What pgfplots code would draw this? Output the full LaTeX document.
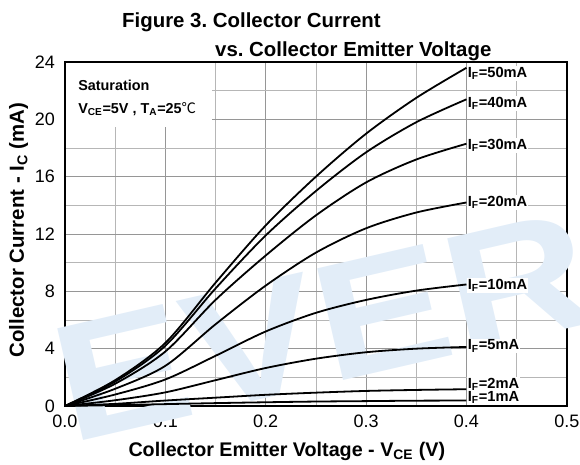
\documentclass[border=0pt]{standalone}
\usepackage{pgfplots}
\usepackage{pgfplotstable}
\pgfplotsset{compat=1.18}
\usepackage{fontspec}
\setmainfont{Liberation Sans}
\newfontfamily\cjk{Noto Sans CJK SC}
\frenchspacing

\definecolor{gridgray}{RGB}{150,150,150}
\definecolor{wmblue}{RGB}{226,237,248}

% I_C (mA) vs V_CE (V), one column per I_F
\pgfplotstableread{
vce   f50   f40   f30   f20   f10   f5    f2    f1
0.00  0.0   0.0   0.0   0.0   0.0   0.0   0.0   0.0
0.05  1.8   1.7   1.55  1.2   0.8   0.4   0.15  0.06
0.10  4.4   4.2   3.8   2.8   1.85  0.95  0.38  0.13
0.15  8.6   8.2   7.4   5.7   3.5   1.8   0.58  0.20
0.20  12.6  11.9  10.5  8.4   5.2   2.65  0.78  0.26
0.25  16.0  15.0  13.3  10.7  6.5   3.3   0.93  0.31
0.30  19.0  17.7  15.6  12.4  7.4   3.75  1.05  0.34
0.35  21.5  19.8  17.2  13.5  8.05  4.0   1.12  0.37
0.40  23.6  21.4  18.3  14.2  8.48  4.12  1.17  0.38
}\ictable

\tikzset{curve/.style={black, solid, line width=1.35pt, smooth, mark=none}}

\begin{document}
\begin{tikzpicture}
\begin{axis}[
    set layers,
    width=376.5pt, height=258pt,
    scale only axis,
    xmin=0, xmax=0.5, ymin=0, ymax=24,
    xtick={0,0.1,...,0.5},
    minor xtick={0.05,0.15,...,0.45},
    ytick={0,4,...,24},
    minor ytick={2,6,...,22},
    grid=both,
    grid style={gridgray, line width=0.6pt},
    minor grid style={gridgray!70, line width=0.6pt},
    major tick length=0pt, minor tick length=0pt,
    axis line style={black, line width=1.2pt},
    xticklabel style={/pgf/number format/fixed, /pgf/number format/fixed zerofill, /pgf/number format/precision=1},
    /pgf/number format/assume math mode=true,
    ticklabel style={font=\fontsize{13.5}{14}\selectfont, black},
    xticklabel style={yshift=-3pt},
    yticklabel style={xshift=-4pt},
    clip=false,
]
% watermark
\node[on layer=axis background, anchor=base west, rotate=13, text=wmblue,
      font=\fontsize{125}{125}\selectfont\bfseries, xscale=1.2, inner sep=0pt]
      at (axis cs:0.005,-2.6) {EVERLIGHT};

\addplot[curve] table[x=vce, y=f50] {\ictable};
\addplot[curve] table[x=vce, y=f40] {\ictable};
\addplot[curve] table[x=vce, y=f30] {\ictable};
\addplot[curve] table[x=vce, y=f20] {\ictable};
\addplot[curve] table[x=vce, y=f10] {\ictable};
\addplot[curve] table[x=vce, y=f5] {\ictable};
\addplot[curve] table[x=vce, y=f2] {\ictable};
\addplot[curve] table[x=vce, y=f1] {\ictable};

% white panel behind the conditions
\fill[white] (axis cs:0.0012,23.92) rectangle (axis cs:0.1464,19.5);
\node[anchor=base west, inner sep=0pt, font=\fontsize{10.8}{12}\selectfont\bfseries]
  at (axis cs:0.013,22.0) {Saturation};
\node[anchor=base west, inner sep=0pt, font=\fontsize{10.8}{12}\selectfont\bfseries]
  at (axis cs:0.013,20.44) {V\textsubscript{CE}=5V , T\textsubscript{A}=25{\cjk\mdseries ℃}};

% curve labels
\tikzset{lbl/.style={anchor=base west, fill=white, inner sep=0.8pt, font=\fontsize{11}{12}\selectfont\bfseries}}
\node[lbl] at (axis cs:0.4,22.93) {I\textsubscript{F}=50mA};
\node[lbl] at (axis cs:0.4,20.84) {I\textsubscript{F}=40mA};
\node[lbl] at (axis cs:0.4,17.91) {I\textsubscript{F}=30mA};
\node[lbl] at (axis cs:0.4,13.91) {I\textsubscript{F}=20mA};
\node[lbl] at (axis cs:0.4,8.14) {I\textsubscript{F}=10mA};
\node[lbl] at (axis cs:0.4,3.91) {I\textsubscript{F}=5mA};
\node[lbl] at (axis cs:0.4,1.23) {I\textsubscript{F}=2mA};
\node[lbl] at (axis cs:0.4,0.30) {I\textsubscript{F}=1mA};

% titles and axis labels
\node[anchor=base west, inner sep=0pt, font=\fontsize{15.3}{17}\selectfont\bfseries]
  at (axis cs:0.0568,26.44) {Figure 3. Collector Current};
\node[anchor=base west, inner sep=0pt, font=\fontsize{15.3}{17}\selectfont\bfseries]
  at (axis cs:0.1494,24.42) {vs. Collector Emitter Voltage};
\node[anchor=base, inner sep=0pt, font=\fontsize{14.8}{16}\selectfont\bfseries]
  at (axis cs:0.221,-3.49) {Collector Emitter Voltage - V\textsubscript{CE} (V)};
\node[anchor=base, rotate=90, inner sep=0pt, font=\fontsize{15.3}{16}\selectfont\bfseries]
  at (axis cs:-0.0408,12.28) {Collector Current - I\textsubscript{C} (mA)};

\coordinate (bl) at (axis cs:-0.0647,-4.05);
\coordinate (tr) at (axis cs:0.5131,28.33);
\end{axis}
\pgfresetboundingbox
\path[use as bounding box] (bl) rectangle (tr);
\end{tikzpicture}
\end{document}
